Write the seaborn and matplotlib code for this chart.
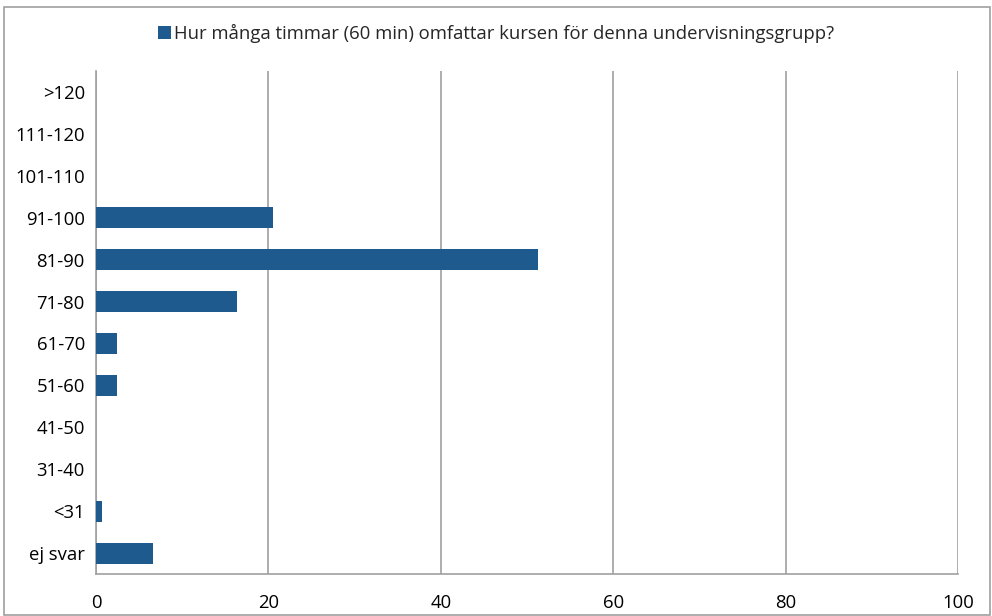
import matplotlib
matplotlib.use("Agg")
import matplotlib.pyplot as plt
import seaborn as sns
import pandas as pd
from matplotlib.patches import Rectangle
from matplotlib.ticker import FixedLocator, NullFormatter

categories = [">120", "111-120", "101-110", "91-100", "81-90", "71-80",
              "61-70", "51-60", "41-50", "31-40", "<31", "ej svar"]
values = [0, 0, 0, 20.5, 51.3, 16.4, 2.4, 2.4, 0, 0, 0.66, 6.6]
series_name = "Hur många timmar (60 min) omfattar kursen för denna undervisningsgrupp?"
x_ticks = [0, 20, 40, 60, 80, 100]

sns.set_style("white")
plt.rcParams['font.family'] = ['Open Sans', 'DejaVu Sans']
FS = 13.3

df = pd.DataFrame({"cat": categories, "val": values})

fig = plt.figure(figsize=(9.92, 6.16), dpi=100)
ax = fig.add_axes([0.0968, 0.068, 0.869, 0.817])
color = "#1F5A8F"
sns.barplot(data=df, x="val", y="cat", order=categories, orient="h",
            color=color, width=0.5, saturation=1, ax=ax, zorder=3, linewidth=0)

ax.set_xlim(0, 100)
ax.set_ylim(len(categories) - 0.5, -0.5)
ax.set_xticks(x_ticks)
ax.set_xticklabels([str(t) for t in x_ticks], fontsize=FS, color="black")
ax.set_xlabel("")
ax.set_ylabel("")
ax.tick_params(axis="y", which="major", length=0, labelsize=FS, pad=8, labelcolor="black")
ax.yaxis.set_minor_locator(FixedLocator([i - 0.5 for i in range(len(categories) + 1)]))
ax.yaxis.set_minor_formatter(NullFormatter())
ax.tick_params(axis="y", which="minor", length=6, width=1.2, color="#A0A0A0", direction="out")
ax.tick_params(axis="x", which="major", length=6, width=1.2, color="#A0A0A0", direction="out", pad=8)

ax.grid(axis="x", color="#A0A0A0", linewidth=1.2, zorder=0)
ax.grid(axis="y", visible=False)
for s in ["top", "right"]:
    ax.spines[s].set_visible(False)
for s in ["left", "bottom"]:
    ax.spines[s].set_color("#A0A0A0")
    ax.spines[s].set_linewidth(1.2)
ax.set_axisbelow(True)

handle = Rectangle((0, 0), 1, 1, facecolor=color, edgecolor="none")
fig.legend([handle], [series_name], loc="center", bbox_to_anchor=(0.5, 0.945),
           frameon=False, fontsize=FS, handlelength=0.7, handleheight=0.7,
           handletextpad=0.2, borderpad=0)

fig.patches.append(Rectangle((0.004, 0.002), 0.994, 0.986, transform=fig.transFigure,
                             fill=False, edgecolor="#A0A0A0", linewidth=1.2))

fig.savefig("out.png", dpi=100, facecolor="white")
